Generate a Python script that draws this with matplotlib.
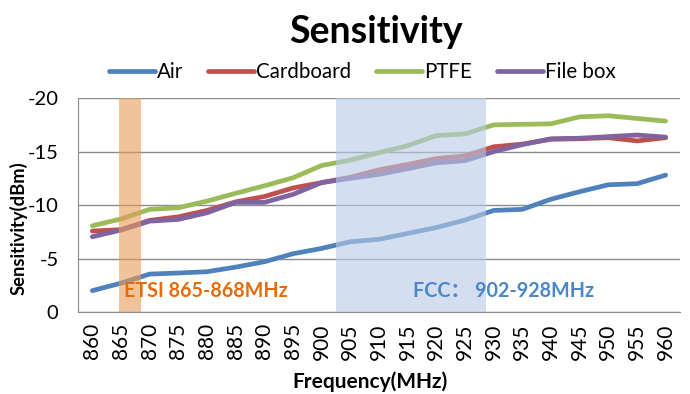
import matplotlib
matplotlib.use("Agg")
import matplotlib.pyplot as plt
import numpy as np

plt.rcParams['font.family'] = ['Lato', 'Noto Sans CJK SC', 'DejaVu Sans']

freqs = [860, 865, 870, 875, 880, 885, 890, 895, 900, 905, 910,
         915, 920, 925, 930, 935, 940, 945, 950, 955, 960]
air = [-2.0, -2.7, -3.55, -3.65, -3.77, -4.2, -4.7, -5.45, -5.95, -6.57, -6.8,
       -7.35, -7.9, -8.6, -9.5, -9.6, -10.55, -11.25, -11.9, -12.0, -12.8]
cardboard = [-7.57, -7.7, -8.57, -8.9, -9.5, -10.3, -10.8, -11.6, -12.1, -12.6, -13.3,
             -13.8, -14.35, -14.6, -15.45, -15.7, -16.15, -16.2, -16.3, -16.0, -16.3]
ptfe = [-8.07, -8.7, -9.6, -9.75, -10.37, -11.1, -11.8, -12.55, -13.7, -14.2, -14.9,
        -15.55, -16.5, -16.65, -17.5, -17.55, -17.6, -18.25, -18.35, -18.1, -17.85]
file_box = [-7.04, -7.66, -8.5, -8.66, -9.28, -10.25, -10.25, -11.0, -12.1, -12.5, -12.87,
            -13.4, -13.95, -14.15, -15.0, -15.65, -16.2, -16.25, -16.4, -16.55, -16.35]

series = [("Air", air, "#4F81BD"),
          ("Cardboard", cardboard, "#C0504D"),
          ("PTFE", ptfe, "#9BBB59"),
          ("File box", file_box, "#8064A2")]

fig = plt.figure(figsize=(6.9, 3.94), dpi=100)
ax = fig.add_axes([0.113, 0.208, 0.8725, 0.543])

x = np.arange(len(freqs))
for name, vals, col in series:
    ax.plot(x, vals, color=col, lw=3.4, label=name, solid_capstyle='round', zorder=3)

# frequency bands, drawn over the lines like the original shapes
ax.axvspan(0.93, 1.7, color=(230/255, 155/255, 88/255), alpha=0.6, lw=0, zorder=4)
ax.axvspan(8.5, 13.73, color=(183/255, 203/255, 230/255), alpha=0.6, lw=0, zorder=4)

ax.text(1.12, -1.95, "ETSI 865-868MHz", color="#E46C0A", fontsize=14.2,
        fontweight='bold', va='center', ha='left', zorder=5)
ax.text(11.2, -1.95, "FCC： 902-928MHz", color="#4A86C8", fontsize=14.2,
        fontweight='bold', va='center', ha='left', zorder=5)

ax.set_xlim(-0.5, len(freqs) - 0.5)
ax.set_ylim(0, -20)
ax.set_yticks([0, -5, -10, -15, -20])
ax.set_yticklabels(["0", "-5", "-10", "-15", "-20"], fontsize=14.5)
ax.set_xticks(x)
ax.set_xticklabels([str(f) for f in freqs], rotation=90, fontsize=15)
ax.tick_params(length=0)
ax.tick_params(axis='y', pad=14)
ax.tick_params(axis='x', pad=8)
ax.yaxis.grid(True, color="#8C8C8C", lw=1.0)
ax.set_axisbelow(True)
for s in ['top', 'right']:
    ax.spines[s].set_visible(False)
for s in ['left', 'bottom']:
    ax.spines[s].set_color("#8C8C8C")

ax.set_xlabel("Frequency(MHz)", fontsize=15, fontweight='bold', va='center')
ax.xaxis.set_label_coords(0.485, -0.327)
ax.set_ylabel("Sensitivity(dBm)", fontsize=13.2, fontweight='bold')
ax.yaxis.set_label_coords(-0.083, 0.39)

fig.text(0.545, 0.919, "Sensitivity", fontsize=27, fontweight='bold', ha='center', va='center')
fig.legend(loc='center', bbox_to_anchor=(0.525, 0.817), ncol=4, frameon=False,
           fontsize=14.8, handlelength=2.25, handletextpad=0.1, columnspacing=1.2)

fig.savefig("out.png", dpi=100)
